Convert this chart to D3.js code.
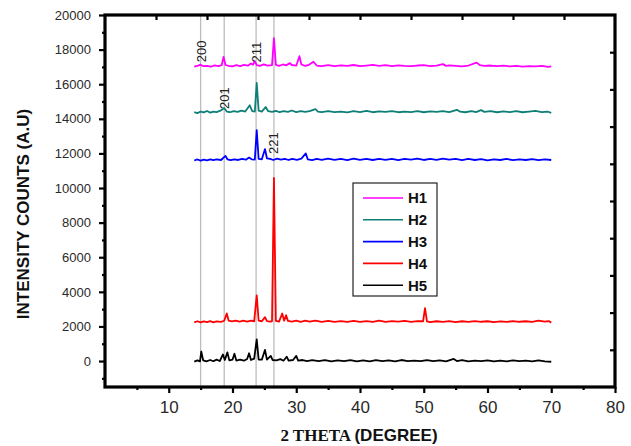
<!DOCTYPE html>
<html>
<head>
<meta charset="utf-8">
<script src="https://cdn.jsdelivr.net/npm/d3@7"></script>
<style>
  body { margin:0; background:#fff; }
  text { font-family: "Liberation Sans", Arial, sans-serif; }
</style>
</head>
<body>
<svg id="chart" width="631" height="446"></svg>
<script>
// data: [2theta, counts]
var h1 = [[14,17020],[14.6,17080],[15,17130],[15.4,17040],[16,17060],[16.6,17010],[17.2,17090],[17.8,17050],[18.3,17100],[18.6,17580],[18.9,17110],[19.4,17060],[20,17030],[20.6,17100],[21.2,17050],[21.8,17120],[22.4,17070],[22.9,17200],[23.2,17120],[23.5,17330],[23.8,17100],[24.3,17060],[24.9,17150],[25.5,17080],[26.2,17100],[26.5,18660],[26.8,17120],[27.3,17060],[27.9,17140],[28.4,17090],[29,17220],[29.3,17110],[30,17070],[30.5,17620],[30.8,17140],[31.4,17060],[32,17120],[32.7,17300],[33.2,17080],[34,17050],[35,17100],[36,17040],[37,17090],[38,17060],[39,17110],[40,17040],[41,17080],[42,17120],[43,17060],[44,17100],[45,17050],[46,17090],[47,17060],[48,17040],[49,17080],[50,17100],[51,17050],[52,17070],[53,17160],[53.5,17060],[54,17090],[55,17060],[56,17030],[57,17080],[58.3,17250],[58.8,17100],[59.5,17060],[60.5,17080],[61.5,17040],[62.5,17070],[63.5,17030],[64.5,17060],[65.5,17020],[66.5,17050],[67.5,17030],[68.5,17060],[69.5,17000],[70,17030]];
var h2 = [[14,14380],[14.5,14330],[15,14420],[15.5,14370],[16,14450],[16.5,14360],[17,14420],[17.5,14390],[18.1,14470],[18.7,14620],[19.1,14420],[19.6,14380],[20.2,14450],[20.8,14400],[21.4,14470],[22,14420],[22.7,14780],[23.1,14450],[23.5,14420],[23.8,16070],[24.1,14470],[24.6,14420],[25.2,14680],[25.6,14440],[26.2,14400],[26.8,14460],[27.4,14380],[28,14440],[28.7,14400],[29.3,14480],[30,14390],[30.7,14440],[31.4,14400],[32.1,14450],[33,14560],[33.4,14420],[34,14380],[35,14450],[36,14390],[37,14420],[38,14370],[39,14440],[40,14390],[41,14460],[42,14380],[43,14430],[44,14400],[45,14450],[46,14380],[47,14420],[48,14390],[49,14440],[50,14380],[51,14430],[52,14400],[53,14450],[54,14390],[55.2,14520],[55.7,14410],[56.5,14380],[57.5,14440],[58.2,14390],[59,14500],[59.5,14400],[60.5,14440],[61.5,14380],[62.5,14430],[63.5,14390],[64.5,14440],[65.5,14380],[66.5,14420],[67.5,14460],[68.5,14390],[69.5,14410],[70,14340]];
var h3 = [[14,11590],[14.5,11650],[15,11580],[15.5,11640],[16,11600],[16.5,11660],[17,11610],[17.5,11650],[18.2,11620],[18.9,11860],[19.2,11660],[19.7,11610],[20.3,11660],[20.9,11620],[21.5,11680],[22.1,11640],[22.6,11760],[23,11660],[23.5,11640],[23.8,13350],[24.1,11680],[24.6,11660],[25.1,12250],[25.4,11720],[25.9,11680],[26.4,11620],[27,11700],[27.6,11640],[28.2,11690],[28.8,11620],[29.4,11680],[30.1,11630],[30.8,11700],[31.5,12000],[31.8,11660],[32.5,11610],[33.2,11680],[34,11620],[35,11700],[36,11630],[37,11680],[38,11610],[39,11700],[40,11630],[41,11680],[42,11620],[43,11690],[44,11630],[45,11680],[46,11610],[47,11690],[48,11640],[49,11700],[50,11620],[51,11680],[52,11630],[53,11700],[54,11640],[55,11690],[56,11610],[57,11680],[58,11620],[59,11670],[60,11600],[61,11660],[62,11620],[63,11680],[64,11610],[65,11650],[66,11620],[67,11670],[68,11610],[69,11660],[70,11620]];
var h4 = [[14,2240],[14.5,2300],[15,2230],[15.5,2290],[16,2250],[16.5,2310],[17,2240],[17.5,2290],[18.2,2260],[18.7,2330],[19.1,2750],[19.4,2330],[19.9,2290],[20.5,2340],[21.1,2280],[21.7,2330],[22.3,2280],[22.9,2340],[23.4,2300],[23.8,3800],[24.1,2330],[24.6,2300],[25.1,2540],[25.4,2310],[25.9,2280],[26.2,2300],[26.5,10580],[26.8,2320],[27.3,2280],[27.8,2750],[28.1,2330],[28.4,2650],[28.7,2320],[29.3,2280],[30,2340],[30.7,2270],[31.4,2330],[32.1,2280],[33,2330],[34,2270],[35,2320],[36,2260],[37,2310],[38,2270],[39,2320],[40,2260],[41,2310],[42,2270],[43,2330],[44,2260],[45,2310],[46,2280],[47,2320],[48,2270],[49,2310],[49.9,2300],[50.2,3060],[50.5,2290],[51,2250],[52,2300],[53,2260],[54,2310],[55,2250],[56,2300],[57,2260],[58,2310],[59,2270],[60,2300],[61,2250],[62,2290],[63,2260],[64,2310],[65,2270],[66,2300],[67,2260],[68,2330],[69,2280],[69.6,2310],[70,2220]];
var h5 = [[14,-30],[14.5,40],[14.9,-20],[15.1,550],[15.4,40],[15.9,-20],[16.5,60],[17,-10],[17.5,80],[18,0],[18.5,380],[18.8,60],[19.2,500],[19.5,40],[20,80],[20.3,420],[20.6,30],[21.2,80],[21.8,20],[22.3,120],[22.6,450],[22.9,60],[23.4,140],[23.8,1250],[24.1,90],[24.6,80],[25.1,650],[25.4,80],[26,300],[26.3,60],[26.9,40],[27.5,110],[28,20],[28.5,250],[28.8,20],[29.5,60],[30,300],[30.3,20],[31,60],[31.7,0],[32.5,50],[33.5,-10],[34.5,50],[35.5,-20],[36.5,40],[37.5,-10],[38.5,50],[39.5,-20],[40.5,40],[41.5,-20],[42.5,50],[43.5,-10],[44.5,40],[45.5,-20],[46.5,60],[47.5,0],[48.5,30],[49.5,-10],[50.5,50],[51.5,-10],[52.5,40],[53.5,-20],[54.7,120],[55.2,0],[56,60],[57,-20],[58,30],[59,-10],[60,40],[61,-20],[62,30],[63,-20],[64,40],[65,-10],[66,30],[67,-20],[68,40],[69,-20],[70,-40]];

var seriesNames = ["H1","H2","H3","H4","H5"];
var seriesColors = ["#ff00ff","#0d7f76","#0000ff","#ff0000","#000000"];
var seriesData = [h1,h2,h3,h4,h5];

var refLines = [15.0, 18.7, 23.7, 26.5];
var peakLabels = [
  {text:"200", x:15.2, y:17900},
  {text:"201", x:18.9, y:15200},
  {text:"211", x:23.8, y:17850},
  {text:"221", x:26.5, y:12600}
];

var xTicks = [10,20,30,40,50,60,70,80];
var xMinor = [5,15,25,35,45,55,65,75];
var yTicks = [0,2000,4000,6000,8000,10000,12000,14000,16000,18000,20000];
var yMinor = [-1000,1000,3000,5000,7000,9000,11000,13000,15000,17000,19000];
var topTicks = [10,20,30,40,50,60,70,80,90];
var rightTicks = [2000,4000,6000,8000,10000,12000,14000,16000,18000];

var plot = {left:105, right:615, top:15, bottom:387};

var svg = d3.select("#chart");

var xScale = d3.scaleLinear().domain([0,80]).range([plot.left, plot.right]);
var yScale = d3.scaleLinear().domain([-1500,20000]).range([plot.bottom, plot.top]);
var xTop = d3.scaleLinear().domain([0,100]).range([plot.left, plot.right]);
var yRight = d3.scaleLinear().domain([0,20000]).range([plot.bottom, plot.top]);

// grey reference lines
svg.append("g")
  .selectAll("line")
  .data(refLines)
  .enter()
  .append("line")
  .attr("x1", function(d){ return xScale(d); })
  .attr("x2", function(d){ return xScale(d); })
  .attr("y1", plot.top)
  .attr("y2", plot.bottom)
  .attr("stroke", "#bdbdbd")
  .attr("stroke-width", 1.3);

// traces
var line = d3.line()
  .x(function(d){ return xScale(d[0]); })
  .y(function(d){ return yScale(d[1]); });

svg.append("g")
  .selectAll("path")
  .data(seriesData)
  .enter()
  .append("path")
  .attr("d", line)
  .attr("fill", "none")
  .attr("stroke", function(d,i){ return seriesColors[i]; })
  .attr("stroke-width", 1.8)
  .attr("stroke-linejoin", "round");

// peak labels
svg.append("g")
  .selectAll("text")
  .data(peakLabels)
  .enter()
  .append("text")
  .attr("transform", function(d){ return "translate(" + (xScale(d.x)+4) + "," + yScale(d.y) + ") rotate(-90)"; })
  .attr("text-anchor", "middle")
  .attr("font-size", 13)
  .attr("fill", "#222")
  .text(function(d){ return d.text; });

// axes
var styleAxis = function(g) {
  g.select(".domain").remove();
  g.selectAll(".tick line").attr("stroke", "#000").attr("stroke-width", 2.2);
};

svg.append("g")
  .attr("transform", "translate(0," + plot.bottom + ")")
  .call(d3.axisBottom(xScale).tickValues(xTicks).tickSize(6).tickPadding(8).tickFormat(d3.format("d")))
  .call(styleAxis)
  .call(function(g){
    g.selectAll("text").attr("font-size", 17).attr("fill", "#2a2a2a");
  });

svg.append("g")
  .attr("transform", "translate(0," + plot.bottom + ")")
  .call(d3.axisBottom(xScale).tickValues(xMinor).tickSize(3).tickFormat(""))
  .call(styleAxis);

svg.append("g")
  .attr("transform", "translate(" + plot.left + ",0)")
  .call(d3.axisLeft(yScale).tickValues(yTicks).tickSize(6).tickPadding(8).tickFormat(d3.format("d")))
  .call(styleAxis)
  .call(function(g){
    g.selectAll("text").attr("font-size", 13).attr("fill", "#2a2a2a");
  });

svg.append("g")
  .attr("transform", "translate(" + plot.left + ",0)")
  .call(d3.axisLeft(yScale).tickValues(yMinor).tickSize(3).tickFormat(""))
  .call(styleAxis);

svg.append("g")
  .attr("transform", "translate(0," + plot.top + ")")
  .call(d3.axisBottom(xTop).tickValues(topTicks).tickSize(5).tickFormat(""))
  .call(styleAxis);

svg.append("g")
  .attr("transform", "translate(" + plot.right + ",0)")
  .call(d3.axisLeft(yRight).tickValues(rightTicks).tickSize(5).tickFormat(""))
  .call(styleAxis);

// frame
svg.append("rect")
  .attr("x", plot.left)
  .attr("y", plot.top)
  .attr("width", plot.right - plot.left)
  .attr("height", plot.bottom - plot.top)
  .attr("fill", "none")
  .attr("stroke", "#000")
  .attr("stroke-width", 3.2);

// axis titles
svg.append("text")
  .attr("transform", "translate(29,214) rotate(-90)")
  .attr("text-anchor", "middle")
  .attr("font-size", 17)
  .attr("font-weight", "bold")
  .attr("fill", "#111")
  .text("INTENSITY COUNTS (A.U)");

var xTitle = svg.append("text")
  .attr("x", 359)
  .attr("y", 441)
  .attr("text-anchor", "middle")
  .attr("font-size", 17)
  .attr("font-weight", "bold")
  .attr("fill", "#111");
xTitle.append("tspan")
  .style("font-family", "'Liberation Serif', 'Times New Roman', serif")
  .text("2 THETA ");
xTitle.append("tspan")
  .text("(DEGREE)");

// legend
var legend = svg.append("g").attr("transform", "translate(353,183)");
legend.append("rect")
  .attr("width", 84)
  .attr("height", 113)
  .attr("fill", "#fff")
  .attr("stroke", "#222")
  .attr("stroke-width", 1.2);

var items = legend.selectAll("g.item")
  .data(seriesNames)
  .enter()
  .append("g")
  .attr("class", "item")
  .attr("transform", function(d,i){ return "translate(0," + (15 + i*21.8) + ")"; });

items.append("line")
  .attr("x1", 10)
  .attr("x2", 50)
  .attr("stroke", function(d,i){ return seriesColors[i]; })
  .attr("stroke-width", 1.6);

items.append("text")
  .attr("x", 55)
  .attr("dy", "0.36em")
  .attr("font-size", 15)
  .attr("font-weight", "bold")
  .attr("fill", "#111")
  .text(function(d){ return d; });
</script>
</body>
</html>
